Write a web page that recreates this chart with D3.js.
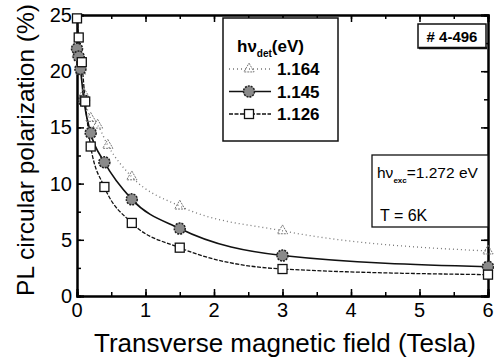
<!DOCTYPE html>
<html>
<head>
<meta charset="utf-8">
<script src="https://cdn.jsdelivr.net/npm/d3@7"></script>
<style>
  body { margin: 0; background: #fff; }
  text { font-family: "Liberation Sans", Arial, sans-serif; }
</style>
</head>
<body>
<script>
// magnetic field (Tesla) for each series
var fieldTri = [0, 0.05, 0.1, 0.2, 0.3, 0.45, 0.8, 1.5, 3, 6];
var polTri   = [21.5, 20, 18, 15.8, 15.2, 13.4, 10.6, 8.0, 5.8, 4.0];
var fieldCirc = [0, 0.025, 0.05, 0.1, 0.2, 0.4, 0.8, 1.5, 3, 6];
var polCirc   = [22, 21.3, 20.2, 17.4, 14.5, 11.9, 8.6, 6.0, 3.6, 2.6];
var fieldSq = [0, 0.025, 0.07, 0.12, 0.2, 0.4, 0.8, 1.5, 3, 6];
var polSq   = [24.7, 23, 20.8, 17.3, 13.3, 9.7, 6.5, 4.3, 2.4, 1.9];
var legendLabels = ["1.164", "1.145", "1.126"];
var xTicks = [0, 1, 2, 3, 4, 5, 6];
var yTicks = [0, 5, 10, 15, 20, 25];

var W = 494, H = 358;
var m = {left: 77, top: 15, right: 6, bottom: 62};

var svg = d3.select("body").append("svg")
  .attr("width", W).attr("height", H);

var x = d3.scaleLinear().domain([0, 6]).range([m.left, W - m.right]);
var y = d3.scaleLinear().domain([0, 25]).range([H - m.bottom, m.top]);

// frame with inward ticks
function tickAxis(axis, tr) {
  var g = svg.append("g").attr("transform", tr).call(axis);
  g.select(".domain").attr("stroke-width", 2);
  g.selectAll("line").attr("stroke-width", 1.5);
  return g;
}
var xMinor = d3.range(0, 6.01, 0.5);
var yMinor = d3.range(0, 25.01, 2.5);

tickAxis(d3.axisBottom(x).tickValues(xMinor).tickSize(-4).tickFormat(""), "translate(0," + y(0) + ")");
tickAxis(d3.axisBottom(x).tickValues(xTicks).tickSize(-7).tickFormat(""), "translate(0," + y(0) + ")");
tickAxis(d3.axisTop(x).tickValues(xMinor).tickSize(-4).tickFormat(""), "translate(0," + y(25) + ")");
tickAxis(d3.axisTop(x).tickValues(xTicks).tickSize(-7).tickFormat(""), "translate(0," + y(25) + ")");
tickAxis(d3.axisLeft(y).tickValues(yMinor).tickSize(-4).tickFormat(""), "translate(" + x(0) + ",0)");
tickAxis(d3.axisLeft(y).tickValues(yTicks).tickSize(-7).tickFormat(""), "translate(" + x(0) + ",0)");
tickAxis(d3.axisRight(y).tickValues(yMinor).tickSize(-4).tickFormat(""), "translate(" + x(6) + ",0)");
tickAxis(d3.axisRight(y).tickValues(yTicks).tickSize(-7).tickFormat(""), "translate(" + x(6) + ",0)");

// tick labels
svg.selectAll(".xl").data(xTicks).enter().append("text")
  .attr("x", function(d) { return x(d); })
  .attr("y", y(0) + 21)
  .attr("text-anchor", "middle")
  .attr("font-size", 20)
  .text(function(d) { return d; });
svg.selectAll(".yl").data(yTicks).enter().append("text")
  .attr("x", x(0) - 5)
  .attr("y", function(d) { return y(d) + 7; })
  .attr("text-anchor", "end")
  .attr("font-size", 20)
  .text(function(d) { return d; });

svg.append("text")
  .attr("x", 285).attr("y", 352)
  .attr("text-anchor", "middle")
  .attr("font-size", 26)
  .text("Transverse magnetic field (Tesla)");
svg.append("text")
  .attr("transform", "translate(34,150) rotate(-90)")
  .attr("text-anchor", "middle")
  .attr("font-size", 24.5)
  .text("PL circular polarization (%)");

// curves
var line = d3.line().curve(d3.curveMonotoneX);
function pts(xs, ys) { return xs.map(function(d, i) { return [x(d), y(ys[i])]; }); }

svg.append("path").attr("d", line(pts(fieldTri, polTri)))
  .attr("fill", "none").attr("stroke", "#777").attr("stroke-width", 1.3)
  .attr("stroke-dasharray", "1,3");
svg.append("path").attr("d", line(pts(fieldCirc, polCirc)))
  .attr("fill", "none").attr("stroke", "#111").attr("stroke-width", 1.6);
svg.append("path").attr("d", line(pts(fieldSq, polSq)))
  .attr("fill", "none").attr("stroke", "#111").attr("stroke-width", 1.3)
  .attr("stroke-dasharray", "4,1.5");

// markers
var tri = d3.symbol().type(d3.symbolTriangle).size(45);
function drawTri(g, cx, cy) {
  g.append("path").attr("d", tri())
    .attr("transform", "translate(" + cx + "," + cy + ")")
    .attr("fill", "none").attr("stroke", "#777").attr("stroke-width", 1)
    .attr("stroke-dasharray", "2,1");
}
function drawCirc(g, cx, cy) {
  g.append("circle").attr("cx", cx).attr("cy", cy).attr("r", 5.5)
    .attr("fill", "#8a8a8a").attr("stroke", "#222").attr("stroke-width", 1.5)
    .attr("stroke-dasharray", "2,1");
}
function drawSq(g, cx, cy) {
  g.append("rect").attr("x", cx - 4.5).attr("y", cy - 4.5)
    .attr("width", 9).attr("height", 9)
    .attr("fill", "#fff").attr("stroke", "#111").attr("stroke-width", 1.3);
}
var mk = svg.append("g");
fieldTri.forEach(function(d, i) { drawTri(mk, x(d), y(polTri[i])); });
fieldCirc.forEach(function(d, i) { drawCirc(mk, x(d), y(polCirc[i])); });
fieldSq.forEach(function(d, i) { drawSq(mk, x(d), y(polSq[i])); });

// legend
var lg = svg.append("g");
lg.append("rect").attr("x", 223).attr("y", 18).attr("width", 115).attr("height", 123)
  .attr("fill", "#fff").attr("stroke", "#111").attr("stroke-width", 1.5);
var hdr = lg.append("text").attr("x", 237).attr("y", 52)
  .attr("font-size", 17).attr("font-weight", "bold");
hdr.append("tspan").text("hν");
hdr.append("tspan").attr("font-size", 10).attr("dy", 5).text("det");
hdr.append("tspan").attr("dy", -5).text("(eV)");
var legStyles = [
  {stroke: "#777", dash: "1,3", draw: drawTri},
  {stroke: "#111", dash: null, draw: drawCirc},
  {stroke: "#111", dash: "4,1.5", draw: drawSq}
];
legendLabels.forEach(function(t, i) {
  var ly = 69 + i * 22.5;
  lg.append("line").attr("x1", 229).attr("x2", 271).attr("y1", ly).attr("y2", ly)
    .attr("stroke", legStyles[i].stroke).attr("stroke-width", 1.3)
    .attr("stroke-dasharray", legStyles[i].dash);
  legStyles[i].draw(lg, 249, ly);
  lg.append("text").attr("x", 277).attr("y", ly + 6)
    .attr("font-size", 17).attr("font-weight", "bold").text(t);
});

// sample box
svg.append("rect").attr("x", 418).attr("y", 24).attr("width", 68).attr("height", 24)
  .attr("fill", "#fff").attr("stroke", "#111").attr("stroke-width", 1.5);
svg.append("line").attr("x1", 419).attr("x2", 487).attr("y1", 48).attr("y2", 48)
  .attr("stroke", "#111").attr("stroke-width", 2.5);
svg.append("text").attr("x", 452).attr("y", 42).attr("text-anchor", "middle")
  .attr("font-size", 15).attr("font-weight", "bold").text("# 4-496");

// excitation box
svg.append("rect").attr("x", 372).attr("y", 155).attr("width", 116).attr("height", 72)
  .attr("fill", "#fff").attr("stroke", "#111").attr("stroke-width", 1.3);
var ex = svg.append("text").attr("x", 377).attr("y", 178).attr("font-size", 15.5);
ex.append("tspan").text("hν");
ex.append("tspan").attr("font-size", 8).attr("dy", 5).attr("font-weight", "bold").text("exc");
ex.append("tspan").attr("dy", -5).text("=1.272 eV");
svg.append("text").attr("x", 380).attr("y", 221).attr("font-size", 16).text("T = 6K");
</script>
</body>
</html>
